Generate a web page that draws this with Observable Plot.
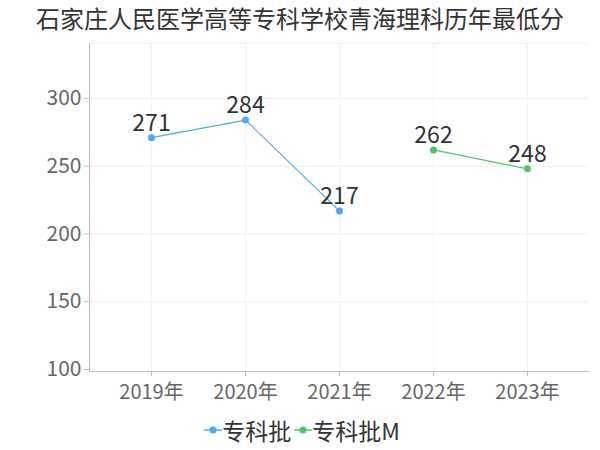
<!DOCTYPE html>
<html><head><meta charset="utf-8">
<script src="https://cdn.jsdelivr.net/npm/d3@7"></script>
<script src="https://cdn.jsdelivr.net/npm/@observablehq/plot@0.6"></script>
<style>
body{margin:0;background:#fff;font-family:"Noto Sans CJK SC","Noto Sans",sans-serif;}
#title{height:36px;line-height:36px;text-align:center;font-size:24px;color:#333;}
#legend{height:40px;display:flex;justify-content:center;align-items:center;font-size:23px;color:#333;gap:3px;padding-left:4px;}
.item{display:flex;align-items:center;}
</style></head><body>
<div id="title">石家庄人民医学高等专科学校青海理科历年最低分</div>
<div id="chart"></div>
<div id="legend"></div>
<script>
const years = ["2019年","2020年","2021年","2022年","2023年"];
const seriesNames = ["专科批","专科批M"];
const seriesColors = ["#4da9f8","#52c467"];
const years1 = ["2019年","2020年","2021年"];
const values1 = [271, 284, 217];
const years2 = ["2022年","2023年"];
const values2 = [262, 248];
const yTicks = [100,150,200,250,300];

const data = [
  ...years1.map((y,i)=>({year:y, value:values1[i], series:seriesNames[0]})),
  ...years2.map((y,i)=>({year:y, value:values2[i], series:seriesNames[1]}))
];

const ff = '"Noto Sans CJK SC","Noto Sans",sans-serif';
const chart = Plot.plot({
  width: 600, height: 374,
  marginTop: 7, marginBottom: 39, marginLeft: 89, marginRight: 12,
  style: {fontFamily: ff, background: "#fff"},
  x: {type: "point", domain: years, padding: 0.65, label: null},
  y: {domain: [98.5, 340.5], label: null},
  color: {domain: seriesNames, range: seriesColors},
  marks: [
    Plot.gridY(yTicks.slice(1), {stroke: "#eee", strokeOpacity: 1}),
    Plot.gridY([340.5], {stroke: "#f3f3f3", strokeOpacity: 1}),
    Plot.gridX(years, {stroke: "#f3f3f3", strokeOpacity: 1}),
    Plot.frame({anchor: "left", stroke: "#bbb"}),
    Plot.frame({anchor: "bottom", stroke: "#bbb"}),
    Plot.axisY({ticks: yTicks, tickSize: 5, tickPadding: 3, fontSize: 21, fill: "#666", stroke: "#bbb", label: null}),
    Plot.axisX({tickSize: 5, tickPadding: 8, fontSize: 20, fill: "#666", stroke: "#bbb", label: null}),
    Plot.line(data, {x: "year", y: "value", z: "series", stroke: "series", strokeWidth: 1.2}),
    Plot.dot(data, {x: "year", y: "value", fill: "series", r: 3.5}),
    Plot.text(data, {x: "year", y: "value", text: d => String(d.value), dy: -14, fontSize: 23, fill: "#333"})
  ]
});
document.getElementById("chart").appendChild(chart);

const legend = document.getElementById("legend");
seriesNames.forEach((n,i)=>{
  const it = document.createElement("div");
  it.className = "item";
  it.innerHTML = `<svg width="18" height="12"><line x1="0" y1="6" x2="18" y2="6" stroke="${seriesColors[i]}" stroke-width="1.5"/><circle cx="9" cy="6" r="3.5" fill="${seriesColors[i]}"/></svg><span>${n}</span>`;
  legend.appendChild(it);
});
</script>
</body></html>
